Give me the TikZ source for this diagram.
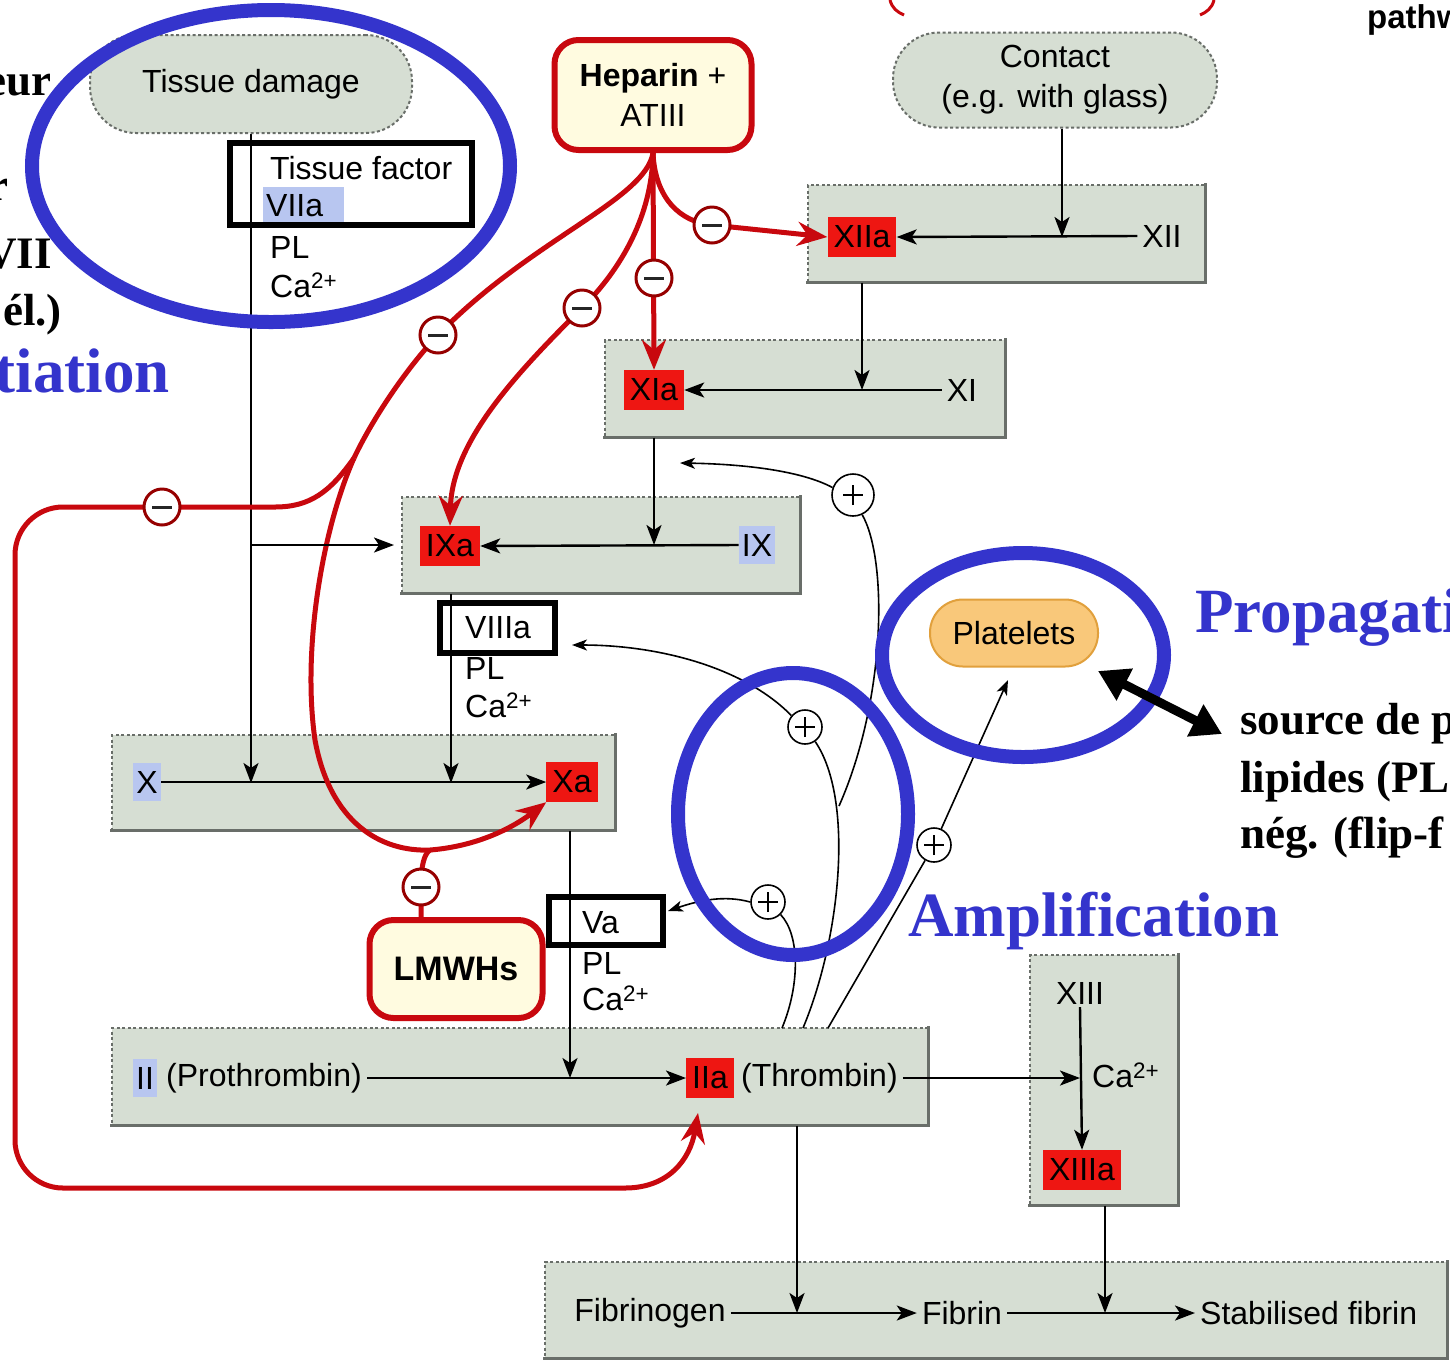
\documentclass[tikz,border=0pt]{standalone}
\usepackage{fontspec}
\setmainfont{Liberation Serif}
\setsansfont{Liberation Sans}
\usetikzlibrary{arrows.meta}
\pgfdeclarelayer{bg}
\pgfdeclarelayer{lines}
\pgfsetlayers{bg,lines,main}
\definecolor{panelgray}{RGB}{214,222,211}
\definecolor{paneledge}{RGB}{105,110,105}
\definecolor{labred}{RGB}{238,22,18}
\definecolor{hlblue}{RGB}{184,198,240}
\definecolor{rline}{RGB}{200,8,14}
\definecolor{rdark}{RGB}{150,0,0}
\definecolor{annblue}{RGB}{52,52,204}
\definecolor{cream}{RGB}{255,251,224}
\definecolor{orangefill}{RGB}{249,200,122}
\definecolor{orangeedge}{RGB}{225,160,60}
\newcommand\dsz{\fontsize{32}{40}\selectfont\sffamily}
\newcommand\annsz{\fontsize{63}{70}\selectfont\rmfamily\bfseries}
\newcommand\blksz{\fontsize{45}{58}\selectfont\rmfamily\bfseries}
\newcommand\mkpanel[5]{%
  \node[panel, minimum width={#4-#2}, minimum height={#5-#3}] (#1) at ({(#2+#4)/2},{(#3+#5)/2}) {};
  \draw[panelshade] (#1.south west) -- (#1.south east) -- (#1.north east);}
\tikzset{
 panel/.style={rectangle, fill=panelgray, draw=paneledge, dash pattern=on 3pt off 2.5pt, line width=1.3pt, inner sep=0pt},
 panelshade/.style={draw=paneledge, line width=3.5pt, line cap=rect},
 pill/.style={rectangle, rounded corners=46pt, fill=panelgray, draw=paneledge, dash pattern=on 3pt off 2.5pt, line width=2pt, align=center},
 redlab/.style={fill=labred, inner xsep=6pt, minimum height=40pt},
 hl/.style={fill=hlblue, inner xsep=3pt, minimum height=38pt},
 txt/.style={inner xsep=5pt, inner ysep=3pt},
 drug/.style={rectangle, rounded corners=24pt, draw=rline, line width=6pt, fill=cream, align=center},
 minus/.style={circle, fill=white, draw=rdark, line width=3pt, minimum size=36pt,
   path picture={\draw[line width=3pt, black!85] ([xshift=-10pt]path picture bounding box.center) -- ([xshift=10pt]path picture bounding box.center);}},
 plus/.style={circle, fill=white, draw=black, line width=1.6pt, minimum size=34pt,
   path picture={\draw[line width=2pt] ([xshift=-10pt]path picture bounding box.center) -- ([xshift=10pt]path picture bounding box.center) ([yshift=-10pt]path picture bounding box.center) -- ([yshift=10pt]path picture bounding box.center);}},
 blk/.style={draw=black, line width=2.4pt},
 blkarr/.style={blk, -{Stealth[length=20pt,width=15pt,inset=5pt]}},
 thinc/.style={draw=black, line width=1.6pt},
 thinarr/.style={thinc, -{Stealth[length=15pt,width=11pt,inset=4pt]}},
 redc/.style={draw=rline, line width=5pt},
 redarr/.style={redc, -{Stealth[length=30pt,width=24pt,inset=10pt]}},
 ann/.style={draw=annblue, line width=14pt},
 framebox/.style={draw=black, line width=6pt},
}
\begin{document}
\begin{tikzpicture}[x=1pt,y=-1pt, every node/.style={font=\dsz, inner sep=0pt}]
\useasboundingbox (0,0) rectangle (1450,1361);
\clip (0,0) rectangle (1450,1361);

% ---------- panels ----------
\begin{pgfonlayer}{bg}
\fill[white] (0,0) rectangle (1450,1361);
\mkpanel{pXII}{808}{185}{1205}{282}
\mkpanel{pXI}{605}{340}{1005}{437}
\mkpanel{pIX}{402}{497}{800}{593}
\mkpanel{pX}{112}{735}{615}{830}
\mkpanel{pII}{112}{1028}{928}{1125}
\mkpanel{pXIII}{1030}{955}{1178}{1205}
\mkpanel{pF}{545}{1262}{1447}{1358}
\end{pgfonlayer}

% ---------- pills and drug boxes ----------
\node[pill, minimum width=322pt, minimum height=98pt] (td) at (251,84) {Tissue damage};
\node[pill, minimum width=324pt, minimum height=95pt] (contact) at (1055,80) {Contact\\(e.g. with glass)};
\node[drug, minimum width=197pt, minimum height=110pt] (hep) at (653,95) {\bfseries Heparin \mdseries+\\ATIII};
\node[drug, minimum width=173pt, minimum height=98pt, font=\fontsize{34}{40}\selectfont\sffamily\bfseries] (lmwh) at (456,969) {LMWHs};
\node[rectangle, rounded corners=33pt, fill=orangefill, draw=orangeedge, line width=2pt, minimum width=168pt, minimum height=67pt] (plat) at (1014,633) {Platelets};

% ---------- factor labels ----------
\node[redlab] (XIIa) at (862,237) {XIIa};
\node[txt] (XII) at (1162,236) {XII};
\node[redlab] (XIa) at (654,390) {XIa};
\node[txt] (XI) at (962,390) {XI};
\node[redlab] (IXa) at (450,546) {IXa};
\node[hl] (IX) at (757,545) {IX};
\node[hl] (X) at (147,782) {X};
\node[redlab] (Xa) at (572,782) {Xa};
\node[hl] (II) at (145,1078) {II};
\node[txt, anchor=west] (prothr) at (161,1078) {(Prothrombin)};
\node[redlab] (IIa) at (710,1078) {IIa};
\node[txt, anchor=west] (thr) at (736,1078) {(Thrombin)};
\node[txt] (XIII) at (1080,993) {XIII};
\node[anchor=west] (caXIII) at (1092,1075) {Ca\textsuperscript{2+}};
\node[redlab] (XIIIa) at (1082,1170) {XIIIa};
\node[txt] (fgen) at (650,1313) {Fibrinogen};
\node[txt] (fib) at (962,1313) {Fibrin};
\node[txt, anchor=west] (stab) at (1195,1313) {Stabilised fibrin};

\node[anchor=west] (tf) at (270,168) {Tissue factor};
\node[hl, anchor=west] (VIIa) at (263,206) {VIIa\hspace*{18pt}};
\node[anchor=west] (pl1) at (270,247) {PL};
\node[anchor=west] (ca1) at (270,285) {Ca\textsuperscript{2+}};
\node[anchor=west] (VIIIa) at (465,628) {VIIIa};
\node[anchor=west] (pl2) at (465,668) {PL};
\node[anchor=west] (ca2) at (465,705) {Ca\textsuperscript{2+}};
\node[anchor=west] (Va) at (582,923) {Va};
\node[anchor=west] (pl3) at (582,963) {PL};
\node[anchor=west] (ca3) at (582,998) {Ca\textsuperscript{2+}};

% ---------- inhibition / activation circles ----------
\node[minus] (m1) at (712,225) {};
\node[minus] (m2) at (654,278) {};
\node[minus] (m3) at (582,308) {};
\node[minus] (m4) at (438,335) {};
\node[minus] (m5) at (162,507) {};
\node[minus] (m6) at (421,887) {};
\node[plus, minimum size=42pt] (p1) at (853,495) {};
\node[plus] (p2) at (805,727) {};
\node[plus] (p3) at (768,902) {};
\node[plus] (p4) at (934,845) {};

% ---------- junction coordinates ----------
\coordinate (jX1) at (251,783);
\coordinate (hs) at (250,545);
\coordinate (he) at (394,545);
\coordinate (jXII) at (1062,237);
\coordinate (jXI) at (862,390);
\coordinate (jIX) at (654,545);
\coordinate (jX2) at (451,783);
\coordinate (jII) at (570,1078);
\coordinate (jXIII) at (1080,1078);
\coordinate (jF1) at (797,1313);
\coordinate (jF2) at (1105,1313);
\coordinate (B) at (354,458);
\coordinate (jL) at (430,850);
\coordinate (tIIa) at (698,1113);
\coordinate (thr0) at (782,1028);
\coordinate (thr1) at (803,1028);
\coordinate (thr2) at (828,1028);
\coordinate (a1) at (680,463);
\coordinate (a2) at (572,645);
\coordinate (a3) at (668,911);
\coordinate (a4) at (1008,680);
\coordinate (j2) at (839,806);
\coordinate (dA) at (1098,671);
\coordinate (dB) at (1222,734);

% ---------- connectors ----------
\begin{pgfonlayer}{lines}
\draw[blkarr] (td.south) -- (jX1);
\draw[blkarr] (jXII |- contact.south) -- (jXII);
\draw[blkarr] (XII.west) -- (XIIa.east);
\draw[blkarr] (XIIa |- pXII.south) -- (jXI);
\draw[blkarr] (XI.west) -- (XIa.east);
\draw[blkarr] (jIX |- pXI.south) -- (jIX);
\draw[blkarr] (IX.west) -- (IXa.east);
\draw[blkarr] (jX2 |- pIX.south) -- (jX2);
\draw[blkarr] (X.east) -- (Xa.west);
\draw[blkarr] (jII |- pX.south) -- (jII);
\draw[blkarr] (prothr.east) -- (IIa.west);
\draw[blkarr] (thr.east) -- (jXIII);
\draw[blkarr] (XIII.south) -- (XIIIa.north);
\draw[blkarr] (jF1 |- pII.south) -- (jF1);
\draw[blkarr] (fgen.east) -- (fib.west);
\draw[blkarr] (fib.east) -- (stab.west);
\draw[blkarr] (jF2 |- pXIII.south) -- (jF2);

% red inhibition paths
\draw[redc] (hep.south) .. controls (655,198) and (680,222) .. (m1.center);
\draw[redarr] (m1.center) -- (XIIa.west);
\draw[redarr] (hep.south) -- (XIa.north);
\draw[redarr] (hep.south) .. controls (652,215) and (622,268) .. (m3.center) .. controls (520,370) and (452,440) .. (IXa.north);
\draw[redc] (hep.south) .. controls (645,200) and (530,240) .. (m4.center) .. controls (405,370) and (372,420) .. (B);
\draw[redc] (B) .. controls (330,492) and (310,507) .. (275,507);
\draw[redc, rounded corners=48pt] (275,507) -- (15,507) -- (15,1188) -- (625,1188);
\draw[redarr] (625,1188) .. controls (668,1188) and (690,1160) .. (tIIa);
\draw[redc] (B) .. controls (322,530) and (302,650) .. (315,740) .. controls (330,822) and (380,852) .. (jL);
\draw[redarr] (jL) .. controls (480,846) and (515,826) .. (Xa.south west);
\draw[redc] (m6 |- lmwh.north) -- (m6.center) .. controls (421,866) and (424,854) .. (jL);

% activation paths
\draw[blkarr] (hs) -- (he);
\draw[thinarr] (p1.160) .. controls (800,470) and (740,464) .. (a1);
\draw[thinc] (p1.-65) .. controls (888,560) and (886,700) .. (j2);
\draw[thinc] (thr1) .. controls (840,940) and (855,800) .. (p2.-55);
\draw[thinarr] (p2.140) .. controls (745,668) and (660,645) .. (a2);
\draw[thinc] (thr0) .. controls (800,985) and (800,935) .. (p3.-45);
\draw[thinarr] (p3.west) .. controls (725,895) and (700,900) .. (a3);
\draw[thinc] (thr2) -- (p4);
\draw[thinarr] (p4) -- (a4);
\end{pgfonlayer}

% ---------- annotations ----------
\draw[framebox] (230,143) rectangle (472,225);
\draw[framebox] (440,603) rectangle (555,653);
\draw[framebox] (549,897) rectangle (663,945);
\draw[ann] (271,166) ellipse [x radius=239pt, y radius=156pt];
\draw[ann] (793,814) ellipse [x radius=115pt, y radius=141pt];
\draw[ann] (1023,655) ellipse [x radius=141pt, y radius=102pt];
\draw[line width=9pt, {Triangle[length=30pt,width=34pt]}-{Triangle[length=30pt,width=34pt]}] (dA) -- (dB);
\draw[rline, line width=3pt] (890,0) .. controls (892,8) and (897,12) .. (904,15);
\draw[rline, line width=3pt] (1214,0) .. controls (1212,8) and (1207,12) .. (1200,15);

\node[anchor=base west, font=\annsz, text=annblue] (amp) at (908,936) {Amplification};
\node[anchor=base west, font=\annsz, text=annblue] (prop) at (1195,632) {Propagati};
\node[anchor=base east, font=\annsz, text=annblue] (init) at (170,392) {tiation};
\node[anchor=base east, font=\blksz] (t1) at (52,95) {eur};
\node[anchor=base east, font=\blksz] (t2) at (9,200) {r};
\node[anchor=base east, font=\blksz] (t3) at (52,268) {VII};
\node[anchor=base east, font=\blksz] (t4) at (62,325) {él.)};
\node[anchor=base west, font=\blksz] (s1) at (1240,734) {source de p};
\node[anchor=base west, font=\blksz] (s2) at (1240,792) {lipides (PL};
\node[anchor=base west, font=\blksz] (s3) at (1240,848) {nég. (flip-f};
\node[anchor=base west, font=\fontsize{33}{40}\selectfont\sffamily\bfseries] (pw) at (1367,28) {pathw};
\end{tikzpicture}
\end{document}
